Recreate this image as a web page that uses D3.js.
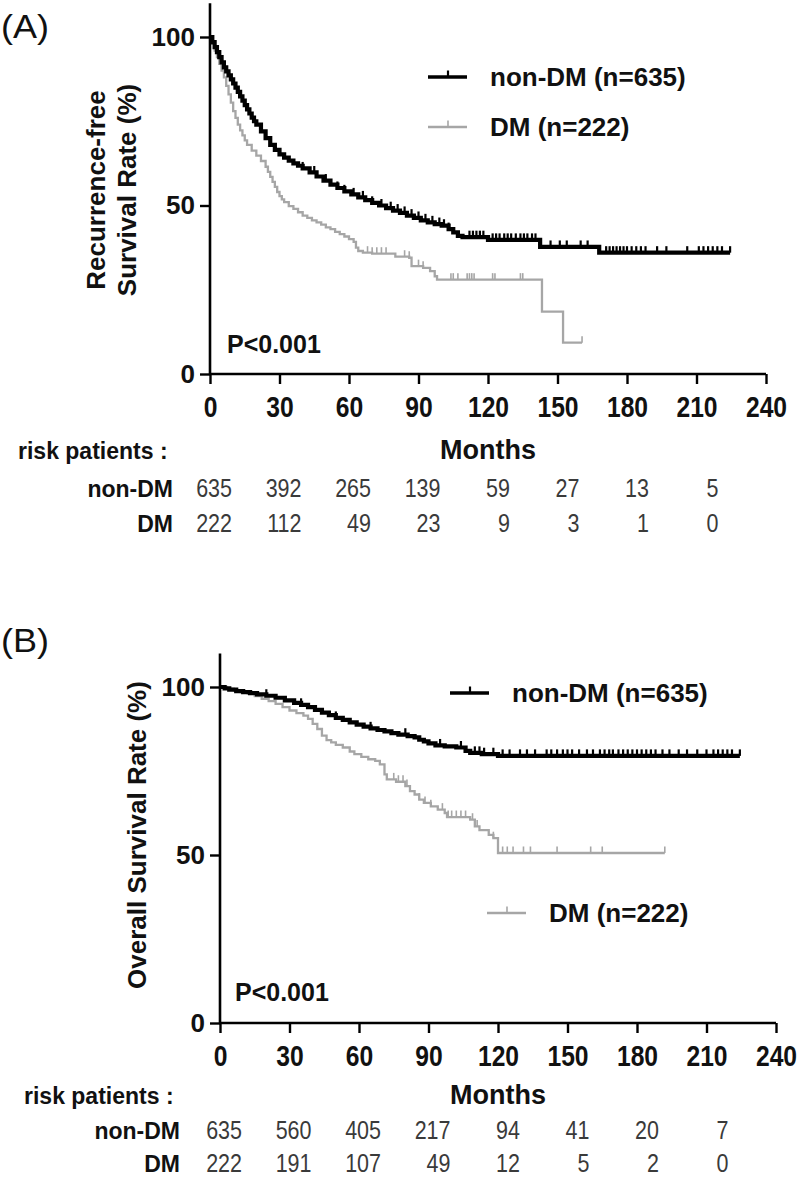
<!DOCTYPE html>
<html><head><meta charset="utf-8">
<script src="https://cdn.jsdelivr.net/npm/d3@7"></script>
<style>
body{margin:0;background:#fff}
svg{display:block}
text{font-family:"Liberation Sans",Arial,Helvetica,sans-serif}
</style>
</head><body>
<svg id="chart" width="800" height="1183"></svg>
<script>
// ---------- data ----------
const monthTicks = [0,30,60,90,120,150,180,210,240];
const rateTicks = [0,50,100];
const riskMonths = [0,30,60,90,120,150,180,210];
const groupNames = ["non-DM","DM"];
const legendLabels = ["non-DM (n=635)","DM (n=222)"];
const pValueLabel = "P<0.001";

// (A) Recurrence-free survival
const rfsNonDMTime = [0,1,2,3,4,5,6,7,8,9,10,11,12,13,14,15,16,17,18,19,20,22,24,26,28,30,32,34,36,38,40,43,46,49,52,55,58,61,64,67,70,73,76,79,82,85,88,91,94,97,100,103,105,107,109,120,142.5,168,224.5];
const rfsNonDMSurv = [100,98.5,97,95.5,94,92.5,91,89.8,88.6,87.4,86.2,85,83.7,82.4,81.1,79.8,78.5,77.3,76.1,75,74,72,70,68,66.5,65.2,64.2,63.3,62.5,61.8,61,59.8,58.6,57.4,56.2,55.2,54.2,53.3,52.4,51.6,50.8,50,49.2,48.5,47.8,47,46.3,45.6,45,44.5,44,43,42,41,40.6,39.8,37.7,36,36];
const rfsNonDMCensor = [40,45,50,55,58,62,66,70,74,78,81,84,87,90,93,96,99,101,103,112,113.5,115,116.5,118,122,123.5,125,127,128.5,130,132,134,135.5,137,139,140.5,147,151,154,160,163,171,172.5,174,175.5,177,178.5,180,182,184,186,188,193,197,206,211,213,215,217,219,221,224.5];
const rfsDMTime = [0,1,2,3,4,5,6,7,8,9,10,11,12,13,14,15,16,18,20,22,24,25,26,27,28,29,30,31,32,34,36,38,40,42,44,46,48,50,52,54,56,58,60,62,63,64,66,70,80,86,87,92,95,97,98,143.3,152.4,160.6];
const rfsDMSurv = [100,98,96,94,92,90,88,85.5,83,80.5,78,76,74,72.3,70.8,69.3,68,66.3,64.8,63.2,61.5,60,58.5,57,55.5,54,52.8,51.8,51,49.8,49,48,47,46.3,45.6,45,44.3,43.5,43,42.2,41.5,40.8,40,39.2,37.5,36.5,36,35.7,34.8,34.5,32,31.5,30.5,29,28,18.5,9.3,9.3];
const rfsDMCensor = [68,70,72,74,76,84,86,90,92,104,105,107,111,112,113,114,122,123,134,135,160.6];
const riskA_nonDM = [635,392,265,139,59,27,13,5];
const riskA_DM = [222,112,49,23,9,3,1,0];

// (B) Overall survival
const osNonDMTime = [0,2,4,7,10,13,16,20,24,28,32,35,38,41,44,47,50,53,56,59,62,65,68,71,74,77,81,84,86,88,90,93,97,102,106,108,113,120,224.4];
const osNonDMSurv = [100,99.6,99.2,98.8,98.5,98.2,97.8,97.4,96.8,96,95.3,94.7,94,93.2,92.4,91.6,90.8,90.2,89.5,88.8,88.2,87.7,87.2,86.8,86.3,85.8,85.4,85,84.3,83.8,83.2,82.6,82.3,82,81,80.4,80,79.5,79.5];
const osNonDMCensor = [20,35,50,65,80,95,104,110,112,114,118,122,125,129.5,132.5,136,141,143,145.5,148,150,152,155,158.4,161,164,166,168,169.6,172,174,176,178,180,182,184,186,188,191,194,198,201.6,206,210,213,215,217,219,221,224.4];
const osDMTime = [0,3,6,9,12,15,18,21,24,27,30,33,36,38,40,42,44,46,48,50,53,56,58,61,64,67,69,71,72,76,80,82,84,86,88,91,94,97,98,108,110,112,116,118,120,192];
const osDMSurv = [100,99.5,99,98.5,98,97.3,96.5,95.8,95,94,93,92.2,91.5,90.5,89,87.5,85.5,84.2,83.5,82.8,82,80.8,80,79.2,78.5,78,77,74,72.5,71.8,70.5,69,68,66.5,65.5,64.5,63.5,62.5,61.3,60.5,58.5,57.4,56,55,50.6,50.6];
const osDMCensor = [75,77,79,80.7,86,88.5,91,96,98.5,100,102,104,106,109,111,118,122,124,126.5,131,134,145.5,160,165,192];
const riskB_nonDM = [635,560,405,217,94,41,20,7];
const riskB_DM = [222,191,107,49,12,5,2,0];

// ---------- drawing ----------
const svg = d3.select("#chart");
const FONT = '"Liberation Sans",Arial,Helvetica,sans-serif';
const BLACK = "#000", GRAY = "#a6a6a6";

function survAt(times, surv, t){
  let s = surv[0];
  for (let i=0;i<times.length;i++){ if (times[i] <= t) s = surv[i]; else break; }
  return s;
}

function drawPanel(cfg){
  const g = svg.append("g");
  const x = d3.scaleLinear().domain([0,240]).range([cfg.x0, cfg.x1]);
  const y = d3.scaleLinear().domain([0,110]).range([cfg.y0, cfg.y0 - 110*cfg.k]);

  // panel letter
  g.append("text").attr("x", 1).attr("y", cfg.letterY)
    .attr("font-size", 34).attr("font-family", '"Open Sans","Liberation Sans",Arial,sans-serif')
    .attr("textLength", 48).attr("lengthAdjust","spacingAndGlyphs")
    .attr("fill","#111").text(cfg.letter);

  // curves
  const line = d3.line().x(d=>x(d[0])).y(d=>y(d[1])).curve(d3.curveStepAfter);
  const series = [
    {t:cfg.dmT, s:cfg.dmS, c:cfg.dmC, color:GRAY, w:2.3, cw:1.6},
    {t:cfg.nT, s:cfg.nS, c:cfg.nC, color:BLACK, w:4.2, cw:2.2}
  ];
  series.forEach(se=>{
    const pts = se.t.map((t,i)=>[t, se.s[i]]);
    g.append("path").datum(pts).attr("d", line)
      .attr("fill","none").attr("stroke", se.color).attr("stroke-width", se.w)
      .attr("stroke-linejoin","miter");
    g.append("g").selectAll("line").data(se.c).join("line")
      .attr("x1", d=>x(d)).attr("x2", d=>x(d))
      .attr("y1", d=>y(survAt(se.t, se.s, d)))
      .attr("y2", d=>y(survAt(se.t, se.s, d)) - 6.5)
      .attr("stroke", se.color).attr("stroke-width", se.cw);
  });

  // axes
  const xAxis = d3.axisBottom(x).tickValues(monthTicks).tickSize(10).tickPadding(12).tickSizeOuter(0);
  const gx = g.append("g").attr("transform", `translate(0,${cfg.y0})`).call(xAxis);
  gx.select(".domain").attr("stroke-width", 2.6).attr("d", `M${cfg.x0-1},0H${cfg.x1}`);
  gx.selectAll(".tick line").attr("stroke-width", 2.4);
  gx.selectAll(".tick text").attr("font-size", 29).attr("font-weight","bold")
    .attr("font-family", FONT).attr("fill","#111")
    .attr("transform","scale(0.85,1)");

  const yAxis = d3.axisLeft(y).tickValues(rateTicks).tickSize(10).tickPadding(5).tickSizeOuter(0);
  const gy = g.append("g").attr("transform", `translate(${cfg.x0},0)`).call(yAxis);
  gy.select(".domain").attr("stroke-width", 2.6).attr("d", `M0,${y(110)}V${cfg.y0}`);
  gy.selectAll(".tick line").attr("stroke-width", 2.4);
  gy.selectAll(".tick text").attr("font-size", 26).attr("font-weight","bold")
    .attr("font-family", FONT).attr("fill","#111");

  // y axis title
  cfg.yTitle.forEach((ln,i)=>{
    g.append("text")
      .attr("transform", `translate(${cfg.yTitleX[i]},${cfg.yTitleCY}) rotate(-90)`)
      .attr("text-anchor","middle").attr("font-size", 26).attr("font-weight","bold")
      .attr("fill","#111").text(ln);
  });

  // legend
  const leg = [
    {label: legendLabels[0], color: BLACK, w: 3.6, cw: 2.2, pos: cfg.leg[0]},
    {label: legendLabels[1], color: GRAY, w: 2.4, cw: 1.6, pos: cfg.leg[1]}
  ];
  leg.forEach(l=>{
    const [lx, ly] = l.pos;
    g.append("line").attr("x1", lx).attr("x2", lx+39).attr("y1", ly).attr("y2", ly)
      .attr("stroke", l.color).attr("stroke-width", l.w);
    g.append("line").attr("x1", lx+20).attr("x2", lx+20).attr("y1", ly).attr("y2", ly-6.5)
      .attr("stroke", l.color).attr("stroke-width", l.cw);
    g.append("text").attr("x", lx+62).attr("y", ly+8.5)
      .attr("font-size", 26).attr("font-weight","bold").attr("fill","#111").text(l.label);
  });

  // p value
  g.append("text").attr("x", cfg.p[0]).attr("y", cfg.p[1])
    .attr("font-size", 25).attr("font-weight","bold").attr("fill","#111").text(pValueLabel);

  // x title and risk table
  g.append("text").attr("x", (cfg.x0+cfg.x1)/2).attr("y", cfg.riskY[0])
    .attr("text-anchor","middle").attr("font-size", 27).attr("font-weight","bold")
    .attr("fill","#111").text("Months");
  g.append("text").attr("x", cfg.riskLabelX).attr("y", cfg.riskY[0])
    .attr("font-size", 23).attr("font-weight","bold").attr("fill","#111").text("risk patients :");
  [cfg.riskN, cfg.riskD].forEach((vals, r)=>{
    const ry = cfg.riskY[r+1];
    g.append("text").attr("x", cfg.groupX).attr("y", ry).attr("text-anchor","end")
      .attr("font-size", 23).attr("font-weight","bold").attr("fill","#111").text(groupNames[r]);
    g.append("g").selectAll("g").data(vals).join("g")
      .attr("transform", (d,i)=>`translate(${x(riskMonths[i]) + 22},${ry})`)
      .append("text").attr("text-anchor","end").attr("font-size", 25)
      .attr("fill","#3a3a3a").attr("transform","scale(0.86,1)").text(d=>d);
  });
}

drawPanel({
  letter:"(A)", letterY:38,
  x0:210, x1:766, y0:374, k:3.37,
  nT:rfsNonDMTime, nS:rfsNonDMSurv, nC:rfsNonDMCensor,
  dmT:rfsDMTime, dmS:rfsDMSurv, dmC:rfsDMCensor,
  yTitle:["Recurrence-free","Survival Rate (%)"], yTitleX:[105,136], yTitleCY:190,
  leg:[[428,77],[428,127]], p:[227,353],
  riskY:[459,497,532], riskLabelX:18, groupX:173,
  riskN:riskA_nonDM, riskD:riskA_DM
});
drawPanel({
  letter:"(B)", letterY:652,
  x0:220, x1:776, y0:1023, k:3.36,
  nT:osNonDMTime, nS:osNonDMSurv, nC:osNonDMCensor,
  dmT:osDMTime, dmS:osDMSurv, dmC:osDMCensor,
  yTitle:["Overall Survival Rate (%)"], yTitleX:[146], yTitleCY:835,
  leg:[[450,693],[487,913]], p:[235,1001],
  riskY:[1104,1139,1172], riskLabelX:24, groupX:180,
  riskN:riskB_nonDM, riskD:riskB_DM
});
</script>
</body></html>
